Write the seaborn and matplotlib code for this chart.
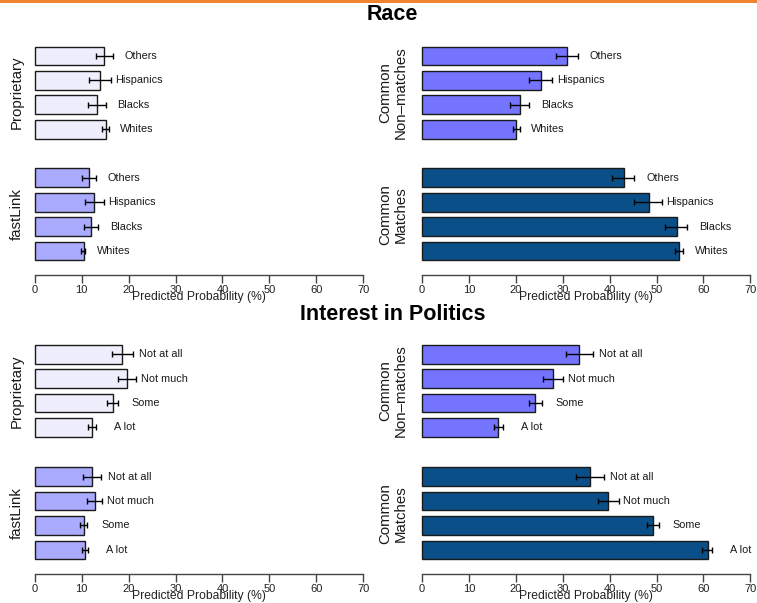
import numpy as np
import pandas as pd
import matplotlib
matplotlib.use("Agg")
import matplotlib.pyplot as plt
from matplotlib.patches import Rectangle
import seaborn as sns

# ---- data: predicted probabilities (%) with lower / upper bounds ----
race_cats = ["Others", "Hispanics", "Blacks", "Whites"]
race_prop_est = [14.7, 13.9, 13.2, 15.1]
race_prop_lo = [13.0, 11.5, 11.4, 14.4]
race_prop_hi = [16.6, 16.2, 15.1, 15.8]
race_fl_est = [11.6, 12.7, 11.9, 10.4]
race_fl_lo = [10.0, 10.7, 10.4, 9.8]
race_fl_hi = [13.1, 14.8, 13.5, 10.8]
race_nm_est = [31.0, 25.3, 20.8, 20.1]
race_nm_lo = [28.6, 22.8, 18.7, 19.3]
race_nm_hi = [33.3, 27.8, 22.9, 20.9]
race_m_est = [43.0, 48.3, 54.3, 54.7]
race_m_lo = [40.6, 45.3, 51.9, 53.9]
race_m_hi = [45.3, 51.2, 56.6, 55.7]

pol_cats = ["Not at all", "Not much", "Some", "A lot"]
pol_prop_est = [18.6, 19.7, 16.6, 12.3]
pol_prop_lo = [16.4, 17.8, 15.4, 11.4]
pol_prop_hi = [20.9, 21.6, 17.7, 13.1]
pol_fl_est = [12.2, 12.8, 10.4, 10.8]
pol_fl_lo = [10.2, 11.2, 9.6, 10.0]
pol_fl_hi = [14.2, 14.4, 11.2, 11.4]
pol_nm_est = [33.5, 28.0, 24.2, 16.3]
pol_nm_lo = [30.6, 25.9, 22.9, 15.3]
pol_nm_hi = [36.4, 30.1, 25.5, 17.3]
pol_m_est = [35.8, 39.7, 49.2, 60.9]
pol_m_lo = [32.8, 37.5, 47.9, 59.6]
pol_m_hi = [38.8, 41.9, 50.5, 61.9]

methods = ["Proprietary", "fastLink", "Common\nNon\u2013matches", "Common\nMatches"]
method_colors = ["#EEEEFD", "#AAAAFF", "#7474FF", "#0A4F88"]

sns.set_theme(style="white")
plt.rcParams["font.family"] = ["Liberation Sans", "DejaVu Sans"]

W, H = 757, 603
fig = plt.figure(figsize=(W / 100, H / 100), dpi=100)

def px_axes(x0, y0, x1, y1):
    """Create axes from pixel box (top-left origin)."""
    return fig.add_axes([x0 / W, 1 - y1 / H, (x1 - x0) / W, (y1 - y0) / H])

SP = 24.4           # pixel distance between bar centres
XL = (34.7, 363.3)  # left column x extent (0..70)
XR = (422.0, 750.3) # right column x extent (0..70)
LABEL_OFFSET = 6.0

def panel(x_ext, c0, cats, est, lo, hi, color, bottom_axis):
    ybot = 4.0 if bottom_axis else 3.6
    ax = px_axes(x_ext[0], c0 - 0.6 * SP, x_ext[1], c0 + (ybot) * SP)
    df = pd.DataFrame({"cat": cats, "val": est})
    sns.barplot(data=df, x="val", y="cat", order=cats, orient="h",
                color=color, saturation=1, width=0.77, errorbar=None,
                edgecolor="#1a1a1a", linewidth=1.0, ax=ax)
    for p in ax.patches:
        p.set_clip_on(False)
    est_a, lo_a, hi_a = np.array(est), np.array(lo), np.array(hi)
    ypos = np.arange(len(cats))
    ax.errorbar(est_a, ypos, xerr=[est_a - lo_a, hi_a - est_a], fmt="none",
                ecolor="black", elinewidth=1.0, capsize=2.5, capthick=1.0,
                clip_on=False)
    for i, c in enumerate(cats):
        ax.text(hi_a[i] + LABEL_OFFSET, i, c, ha="center", va="center",
                fontsize=7.8, color="#1a1a1a")
    ax.set_xlim(0, 70)
    ax.set_ylim(ybot, -0.6)
    ax.set_ylabel("")
    ax.set_yticks([])
    for s in ["top", "right", "left"]:
        ax.spines[s].set_visible(False)
    if bottom_axis:
        ax.spines["bottom"].set_visible(True)
        ax.spines["bottom"].set_color("#444444")
        ax.spines["bottom"].set_linewidth(1.0)
        ax.spines["bottom"].set_bounds(0, 70)
        ax.set_xticks(np.arange(0, 71, 10))
        ax.tick_params(axis="x", bottom=True, length=6, width=1.0,
                       color="#444444", pad=1.2, labelsize=8,
                       labelcolor="#222222")
        ax.set_xlabel("Predicted Probability (%)", fontsize=8.7,
                      color="#222222")
        hpx = (ybot + 0.6) * SP
        ax.xaxis.set_label_coords(0.5, -16.0 / hpx)
    else:
        ax.spines["bottom"].set_visible(False)
        ax.set_xticks([])
        ax.set_xlabel("")
    ax.patch.set_alpha(0)
    return ax

sections = [
    ("Race", 15, race_cats, 56.0, 177.8,
     [(race_prop_est, race_prop_lo, race_prop_hi),
      (race_fl_est, race_fl_lo, race_fl_hi),
      (race_nm_est, race_nm_lo, race_nm_hi),
      (race_m_est, race_m_lo, race_m_hi)]),
    ("Interest in Politics", 314, pol_cats, 354.2, 476.7,
     [(pol_prop_est, pol_prop_lo, pol_prop_hi),
      (pol_fl_est, pol_fl_lo, pol_fl_hi),
      (pol_nm_est, pol_nm_lo, pol_nm_hi),
      (pol_m_est, pol_m_lo, pol_m_hi)]),
]

for title, ty, cats, top_c0, bot_c0, series in sections:
    fig.text(392.5 / W, 1 - ty / H, title, ha="center", va="center",
             fontsize=15.5, fontweight="bold", color="black")
    layout = [(XL, top_c0, False), (XL, bot_c0, True),
              (XR, top_c0, False), (XR, bot_c0, True)]
    label_x = [16.5, 16.5, 393.0, 393.0]
    for k, ((xe, c0, bottom), (e, l, h)) in enumerate(zip(layout, series)):
        panel(xe, c0, cats, e, l, h, method_colors[k], bottom)
        cy = c0 + 1.5 * SP
        fig.text(label_x[k] / W, 1 - cy / H, methods[k], rotation=90,
                 ha="center", va="center", fontsize=10.8, linespacing=1.1,
                 multialignment="center", color="#1a1a1a")

# orange rule along the top edge
fig.patches.append(Rectangle((0, 1 - 2.5 / H), 1, 2.5 / H,
                             transform=fig.transFigure, facecolor="#F0832F",
                             edgecolor="none", zorder=10))

fig.savefig("out.png", dpi=100)
